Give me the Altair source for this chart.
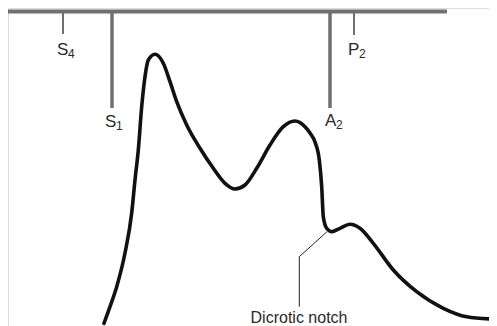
import altair as alt
import pandas as pd

# Pulse waveform (image-pixel coordinates)
curve_x = [104, 110, 116.7, 125, 131.7, 135, 138.3, 141.7, 145, 148.3, 155, 163.3, 170,
           176.7, 186.7, 200, 213.3, 225, 235, 245, 256.7, 270, 283.3, 295, 305, 310,
           315, 319.3, 321.7, 323.3, 326.7, 331.7, 340, 350, 360, 373.3, 393.3, 416.7,
           443.3, 466.7, 496.7]
curve_y = [323.3, 306.7, 286.7, 253, 213, 180, 150, 106.7, 76.7, 60, 54.3, 63.3, 81.7,
           101.7, 125, 148.3, 168.3, 183.3, 189, 185, 168.3, 145, 126.7, 121, 126.7, 133,
           142, 160, 186.7, 216.7, 228.3, 231.7, 228.3, 224.3, 228.3, 243.3, 270, 291.7,
           308.3, 316.7, 319.3]

# Heart-sound markers hanging from the top line
tick_names = ["S4", "S1", "A2", "P2"]
tick_x = [63, 112, 330, 354]
tick_end_y = [34, 108, 108, 35]
tick_major = [False, True, True, False]

label_letters = ["S", "S", "A", "P"]
label_subs = ["4", "1", "2", "2"]
label_x = [57, 105, 325, 348]
label_y = [55, 127, 126, 55]

top_line_x = [5, 447]
top_line_y = 11.5

leader_x = [327, 299.3, 299.3]
leader_y = [231.7, 256.7, 306.7]
note_text = "Dicrotic notch"
note_x = 299
note_y = 323

W, H = 481, 318
xs = alt.Scale(domain=[8, 8 + W], nice=False, zero=False)
ys = alt.Scale(domain=[8, 8 + H], nice=False, zero=False, reverse=True)

curve_df = pd.DataFrame({"x": curve_x, "y": curve_y, "i": range(len(curve_x))})
tick_df = pd.DataFrame({"name": tick_names, "x": tick_x, "y2": tick_end_y,
                        "y": [top_line_y] * 4, "major": tick_major})
lab_df = pd.DataFrame({"letter": label_letters, "sub": label_subs,
                       "x": label_x, "y": label_y})
lab_df["xs"] = lab_df["x"] + 11
lab_df["ys"] = lab_df["y"] + 3
top_df = pd.DataFrame({"x": [top_line_x[0]], "x2": [top_line_x[1]], "y": [top_line_y]})
lead_df = pd.DataFrame({"x": leader_x, "y": leader_y, "i": range(len(leader_x))})
note_df = pd.DataFrame({"t": [note_text], "x": [note_x], "y": [note_y]})

gray = "#707070"
font = "Liberation Sans"
txt = "#2a2a2a"

top = alt.Chart(top_df).mark_rule(color=gray, strokeWidth=4).encode(
    x=alt.X("x:Q", scale=xs, axis=None), x2="x2:Q",
    y=alt.Y("y:Q", scale=ys, axis=None))

ticks_major = alt.Chart(tick_df).transform_filter("datum.major").mark_rule(
    color=gray, strokeWidth=3.5).encode(
    x=alt.X("x:Q", scale=xs, axis=None),
    y=alt.Y("y:Q", scale=ys, axis=None), y2="y2:Q")

ticks_minor = alt.Chart(tick_df).transform_filter("!datum.major").mark_rule(
    color=gray, strokeWidth=2).encode(
    x=alt.X("x:Q", scale=xs, axis=None),
    y=alt.Y("y:Q", scale=ys, axis=None), y2="y2:Q")

letters = alt.Chart(lab_df).mark_text(
    align="left", baseline="alphabetic", font=font, fontSize=17, color=txt).encode(
    x=alt.X("x:Q", scale=xs, axis=None),
    y=alt.Y("y:Q", scale=ys, axis=None), text="letter:N")

subs = alt.Chart(lab_df).mark_text(
    align="left", baseline="alphabetic", font=font, fontSize=12, color=txt).encode(
    x=alt.X("xs:Q", scale=xs, axis=None),
    y=alt.Y("ys:Q", scale=ys, axis=None), text="sub:N")

curve = alt.Chart(curve_df).mark_line(
    color="#111111", strokeWidth=3.6, interpolate="monotone",
    strokeCap="round", strokeJoin="round").encode(
    x=alt.X("x:Q", scale=xs, axis=None),
    y=alt.Y("y:Q", scale=ys, axis=None), order="i:Q")

leader = alt.Chart(lead_df).mark_line(color="#222222", strokeWidth=1).encode(
    x=alt.X("x:Q", scale=xs, axis=None),
    y=alt.Y("y:Q", scale=ys, axis=None), order="i:Q")

note = alt.Chart(note_df).mark_text(
    align="center", baseline="alphabetic", font=font, fontSize=16, color=txt).encode(
    x=alt.X("x:Q", scale=xs, axis=None),
    y=alt.Y("y:Q", scale=ys, axis=None), text="t:N")

chart = alt.layer(top, ticks_major, ticks_minor, letters, subs, leader, curve, note).properties(
    width=W, height=H, padding=0, autosize=alt.AutoSizeParams(type="none")
).configure_view(stroke=None).configure(background="white")

chart.save("out.html", embed_options={"renderer": "svg", "actions": False})
